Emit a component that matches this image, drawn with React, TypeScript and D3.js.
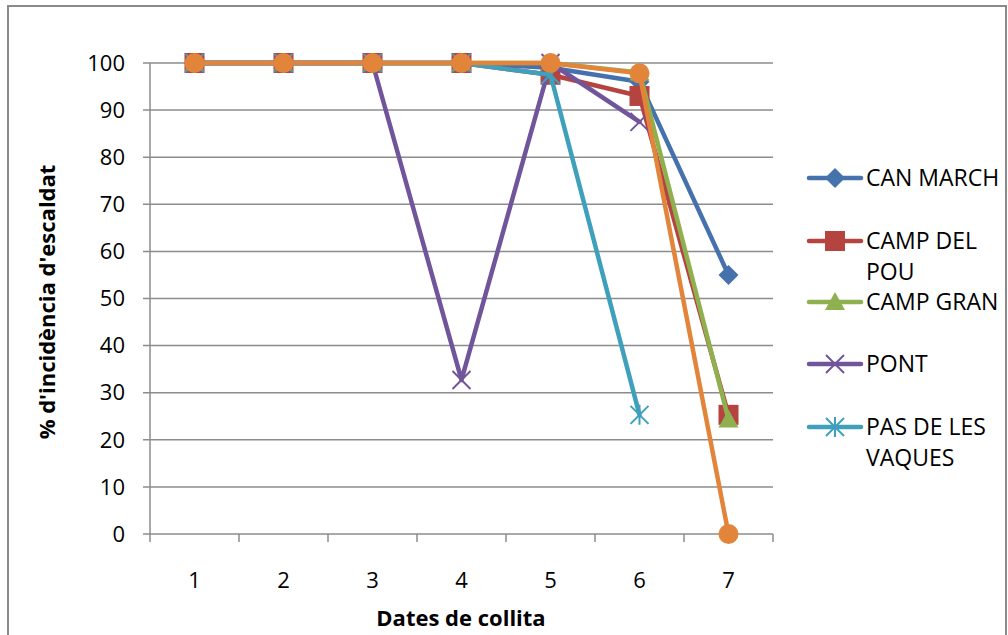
import React from "react";
import * as d3 from "d3";

const categories = ["1", "2", "3", "4", "5", "6", "7"];
const yTicks = [0, 10, 20, 30, 40, 50, 60, 70, 80, 90, 100];
const canMarch = [100, 100, 100, 100, 99, 96, 55];
const campDelPou = [100, 100, 100, 100, 97.5, 93, 25.3];
const campGran = [100, 100, 100, 100, 100, 98, 24.3];
const pont = [100, 100, 100, 32.7, 100, 87.5, null];
const pasDeLesVaques = [100, 100, 100, 100, 97.5, 25.3, null];
const serie6 = [100, 100, 100, 100, 100, 97.8, 0];

const seriesNames = [["CAN MARCH"], ["CAMP DEL", "POU"], ["CAMP GRAN"], ["PONT"], ["PAS DE LES", "VAQUES"], []];
const seriesValues = [canMarch, campDelPou, campGran, pont, pasDeLesVaques, serie6];
const colors = ["#4572AC", "#B5433F", "#8FB04E", "#71559A", "#3FA0BB", "#E2843A"];
const markers = ["diamond", "square", "triangle", "x", "asterisk", "circle"];

const FONT = "'Open Sans', sans-serif";

function Marker({ type, x, y, color }: { type: string; x: number; y: number; color: string }) {
  if (type === "diamond") {
    const s = 10;
    return <path d={`M${x},${y - s}L${x + s},${y}L${x},${y + s}L${x - s},${y}Z`} fill={color} />;
  }
  if (type === "square") {
    const s = 10;
    return <rect x={x - s} y={y - s} width={2 * s} height={2 * s} fill={color} />;
  }
  if (type === "triangle") {
    const s = 10;
    return <path d={`M${x},${y - s}L${x + s},${y + s * 0.8}L${x - s},${y + s * 0.8}Z`} fill={color} />;
  }
  if (type === "circle") {
    return <circle cx={x} cy={y} r={10} fill={color} />;
  }
  if (type === "x") {
    const s = 9;
    return (
      <path d={`M${x - s},${y - s}L${x + s},${y + s}M${x - s},${y + s}L${x + s},${y - s}`} stroke={color} strokeWidth={2} fill="none" />
    );
  }
  const s = 9;
  return (
    <path
      d={`M${x - s},${y - s}L${x + s},${y + s}M${x - s},${y + s}L${x + s},${y - s}M${x},${y - s - 1}L${x},${y + s + 1}`}
      stroke={color}
      strokeWidth={2}
      fill="none"
    />
  );
}

export default function App() {
  const left = 150, right = 773, top = 63, bottom = 534;
  const x = d3.scaleBand().domain(categories).range([left, right]);
  const y = d3.scaleLinear().domain([0, 100]).range([bottom, top]);
  const cx = (c: string) => (x(c) as number) + x.bandwidth() / 2;
  const line = d3
    .line<number | null>()
    .defined((d) => d !== null)
    .x((_, i) => cx(categories[i]))
    .y((d) => y(d as number));
  const grid = "#8C8C8C";
  const legendY = [178, 241, 302, 364, 427];

  return (
    <svg width={1008} height={635} style={{ position: "absolute", left: 0, top: 0 }} fontFamily={FONT}>
      <rect x={0} y={0} width={1008} height={635} fill="#fff" />
      <rect x={8} y={6} width={998} height={650} fill="none" stroke="#8A8A8A" strokeWidth={2} />
      {yTicks.map((t) => (
        <g key={t}>
          <line x1={left - 7} x2={right} y1={y(t)} y2={y(t)} stroke={grid} strokeWidth={1.5} />
          <text x={125} y={y(t)} dy="0.35em" textAnchor="end" fontSize={22} fill="#000">
            {t}
          </text>
        </g>
      ))}
      <line x1={left} x2={left} y1={top} y2={bottom} stroke={grid} strokeWidth={1.5} />
      {categories.map((c, i) => (
        <line key={"t" + i} x1={x(c) as number} x2={x(c) as number} y1={bottom} y2={bottom + 8} stroke={grid} strokeWidth={1.5} />
      ))}
      <line x1={right} x2={right} y1={bottom} y2={bottom + 8} stroke={grid} strokeWidth={1.5} />
      {categories.map((c) => (
        <text key={"l" + c} x={cx(c)} y={580} dy="0.35em" textAnchor="middle" fontSize={22} fill="#000">
          {c}
        </text>
      ))}
      <text x={461} y={618} dy="0.35em" textAnchor="middle" fontSize={22} fontWeight="bold" fill="#000">
        Dates de collita
      </text>
      <text
        transform={`translate(47,302) rotate(-90)`}
        dy="0.35em"
        textAnchor="middle"
        fontSize={22}
        fontWeight="bold"
        fill="#000"
      >
        % d'incidència d'escaldat
      </text>
      {seriesValues.map((vals, si) => (
        <g key={"s" + si}>
          <path d={line(vals) || ""} fill="none" stroke={colors[si]} strokeWidth={4.5} strokeLinejoin="round" strokeLinecap="round" />
          {vals.map((v, i) =>
            v === null ? null : <Marker key={i} type={markers[si]} x={cx(categories[i])} y={y(v)} color={colors[si]} />
          )}
        </g>
      ))}
      {legendY.map((ly, i) => (
        <g key={"lg" + i}>
          <line x1={809} x2={861} y1={ly} y2={ly} stroke={colors[i]} strokeWidth={4.5} strokeLinecap="round" />
          <Marker type={markers[i]} x={835} y={ly} color={colors[i]} />
          {seriesNames[i].map((n, k) => (
            <text key={k} x={866} y={ly + k * 31} dy="0.35em" fontSize={23} fill="#000">
              {n}
            </text>
          ))}
        </g>
      ))}
    </svg>
  );
}
